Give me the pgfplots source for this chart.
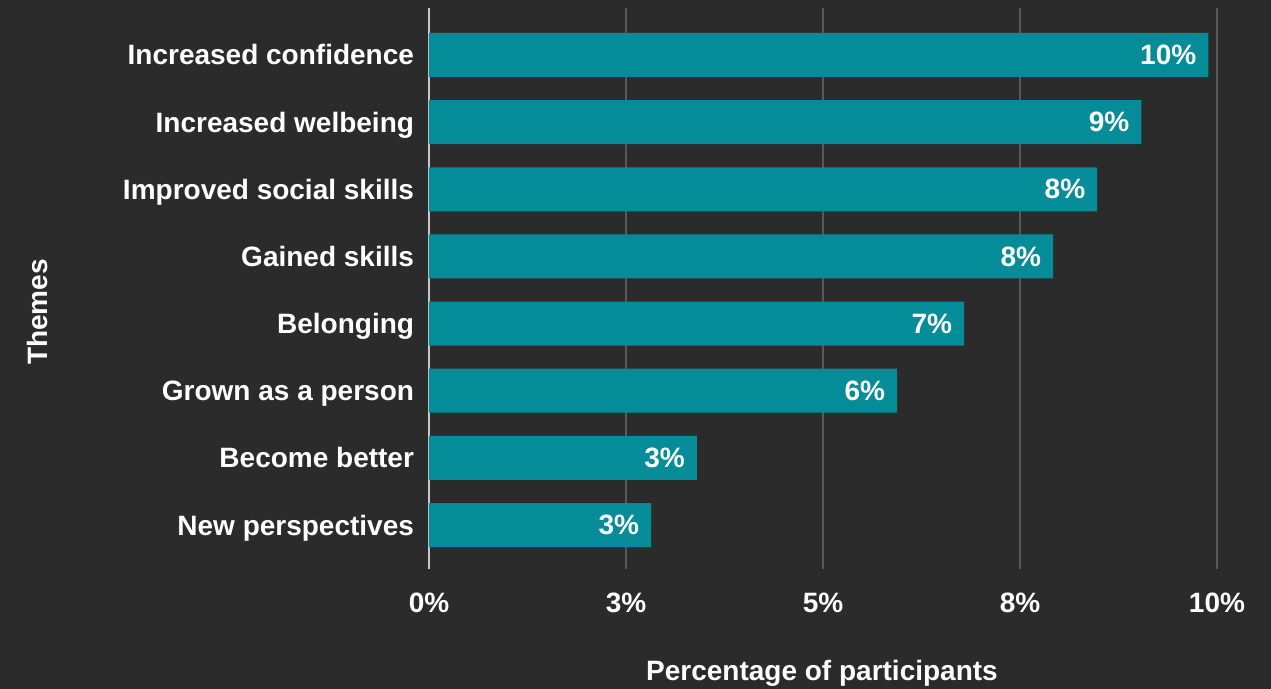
\documentclass[border=0pt]{standalone}
\usepackage{fontspec}
\setmainfont{Liberation Sans}
\usepackage{pgfplots}
\pgfplotsset{compat=1.18}
\definecolor{bg}{RGB}{43,43,43}
\definecolor{barc}{RGB}{4,140,152}
\definecolor{gridc}{RGB}{88,88,88}
\definecolor{zeroc}{RGB}{200,200,200}
\begin{document}
\begin{tikzpicture}
\fill[bg] (0,0) rectangle (635.5pt,344.5pt);
\useasboundingbox (0,0) rectangle (635.5pt,344.5pt);
\begin{axis}[
  at={(214.5pt,60pt)}, anchor=south west, scale only axis,
  width=394pt, height=280.5pt,
  xmin=0, xmax=10, ymin=-0.655, ymax=7.70,
  xbar, bar width=22pt,
  axis line style={draw=none}, tick style={draw=none},
  xtick={2.5,5,7.5,10}, xticklabels={3\%,5\%,8\%,10\%},
  extra x ticks={0}, extra x tick labels={0\%},
  extra x tick style={major grid style={zeroc, line width=1pt}},
  xmajorgrids, major grid style={gridc, line width=0.7pt},
  ytick={0,...,7},
  yticklabels={New perspectives, Become better, Grown as a person, Belonging, Gained skills, Improved social skills, Increased welbeing, Increased confidence},
  ticklabel style={font=\bfseries\fontsize{14}{16}\selectfont, text=white},
  xticklabel style={yshift=-8.5pt},
  yticklabel style={xshift=0.3pt, yshift=-1.5pt, text height=10pt, text depth=3pt},
  /pgf/number format/assume math mode=true,
  point meta=explicit,
  nodes near coords={\pgfmathprintnumber[fixed,precision=0,assume math mode=true]{\pgfplotspointmeta}\%},
  every node near coord/.append style={anchor=east, xshift=-2.5pt, text=white, font=\bfseries\fontsize{14}{16}\selectfont},
]
\addplot[fill=barc, draw=none] table[x=x, y=y, meta=lab, row sep=\\] {
x y lab\\
2.82 0 3\\
3.40 1 3\\
5.94 2 6\\
6.79 3 7\\
7.92 4 8\\
8.48 5 8\\
9.04 6 9\\
9.89 7 10\\
};
\end{axis}
\node[text=white, font=\bfseries\fontsize{14}{16}\selectfont] at (411pt,8pt) {Percentage of participants};
\node[text=white, font=\bfseries\fontsize{14}{16}\selectfont, rotate=90] at (18.5pt,188.5pt) {Themes};
\end{tikzpicture}
\end{document}
